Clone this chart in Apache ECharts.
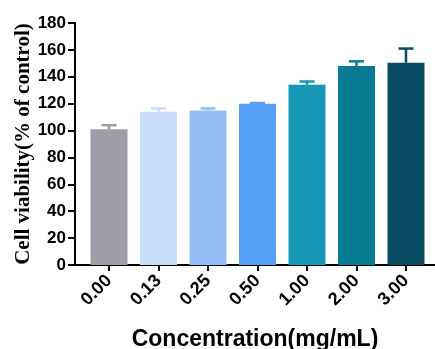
<!DOCTYPE html>
<html>
<head>
<meta charset="utf-8">
<script src="https://cdn.jsdelivr.net/npm/echarts@6/dist/echarts.min.js"></script>
<style>html,body{margin:0;padding:0;background:#fff;}#c{width:435px;height:349px;}</style>
</head>
<body>
<div id="c"></div>
<script>
const categories = ['0.00', '0.13', '0.25', '0.50', '1.00', '2.00', '3.00'];
const values = [101, 114, 115, 120, 134, 148, 150.5];
const errors = [3, 2.5, 1.5, 0.5, 2.5, 3.5, 10.5];
const colors = ['#9E9EA6', '#C8DDF8', '#93BEF5', '#559FF7', '#1598B5', '#067B92', '#074C61'];
const yTicks = [0, 20, 40, 60, 80, 100, 120, 140, 160, 180];

const chart = echarts.init(document.getElementById('c'), null, {renderer: 'canvas'});
const idx = categories.map((_, i) => i);
chart.setOption({
  animation: false,
  grid: {left: 75, right: 0, top: 23, bottom: 84, outerBoundsMode: 'none', containLabel: false},
  xAxis: {
    type: 'value', min: -0.687, max: 6.586,
    splitLine: {show: false},
    axisLine: {show: true, onZero: false, lineStyle: {color: '#000', width: 2}},
    axisTick: {show: true, customValues: idx, length: 6, lineStyle: {color: '#000', width: 2}},
    axisLabel: {
      customValues: idx, rotate: 45, margin: 13,
      formatter: v => categories[Math.round(v)],
      fontFamily: 'Liberation Sans', fontWeight: 'bold', fontSize: 18, color: '#000'
    },
    name: 'Concentration(mg/mL)', nameLocation: 'middle', nameGap: 63, nameMoveOverlap: false,
    nameTextStyle: {fontFamily: 'Liberation Sans', fontWeight: 'bold', fontSize: 23, color: '#000'}
  },
  yAxis: {
    type: 'value', min: yTicks[0], max: yTicks[yTicks.length - 1], interval: 20,
    splitLine: {show: false},
    axisLine: {show: true, onZero: false, lineStyle: {color: '#000', width: 2}},
    axisTick: {show: true, length: 7, lineStyle: {color: '#000', width: 2}},
    axisLabel: {fontFamily: 'Liberation Sans', fontWeight: 'bold', fontSize: 17, color: '#000', margin: 9},
    name: 'Cell viability(% of control)', nameLocation: 'middle', nameGap: 41, nameMoveOverlap: false,
    nameTextStyle: {fontFamily: 'Liberation Serif', fontWeight: 'bold', fontSize: 21, color: '#000'}
  },
  series: [
    {
      type: 'bar', barWidth: 37,
      data: values.map((v, i) => ({value: [i, v], itemStyle: {color: colors[i]}}))
    },
    {
      type: 'custom',
      data: values.map((v, i) => [i, v, errors[i]]),
      renderItem: function (params, api) {
        const i = api.value(0), v = api.value(1), e = api.value(2);
        const p0 = api.coord([i, v]);
        const p1 = api.coord([i, v + e]);
        const hw = 7.5;
        const st = {stroke: colors[i], lineWidth: 2.5};
        return {
          type: 'group',
          children: [
            {type: 'line', shape: {x1: p0[0], y1: p0[1], x2: p1[0], y2: p1[1]}, style: st},
            {type: 'line', shape: {x1: p1[0] - hw, y1: p1[1], x2: p1[0] + hw, y2: p1[1]}, style: st}
          ]
        };
      },
      z: 3
    }
  ]
});
</script>
</body>
</html>
